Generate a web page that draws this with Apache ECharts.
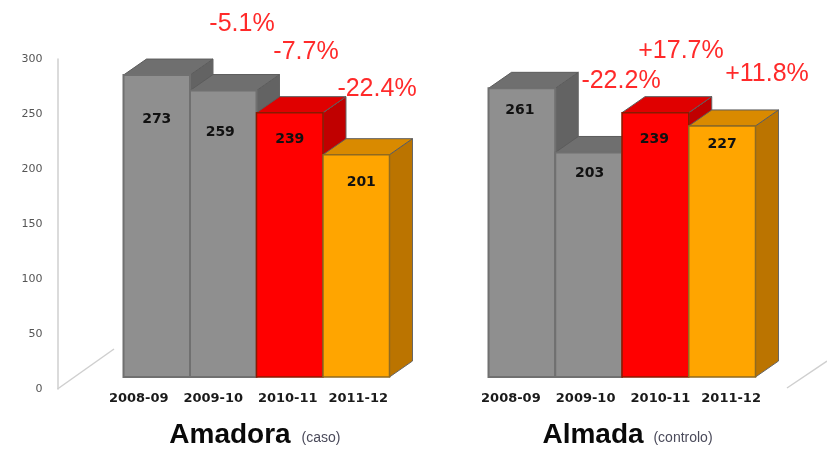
<!DOCTYPE html>
<html>
<head>
<meta charset="utf-8">
<title>Amadora / Almada</title>
<script src="https://cdn.jsdelivr.net/npm/echarts@6/dist/echarts.min.js"></script>
<style>
  html, body { margin: 0; padding: 0; background: #fff; }
  #main { width: 827px; height: 455px; filter: blur(0.4px); }
</style>
</head>
<body>
<div id="main"></div>
<script>
var years = ["2008-09", "2009-10", "2010-11", "2011-12"];
var amadora = [273, 259, 239, 201];
var almada = [261, 203, 239, 227];
var amadoraChanges = ["-5.1%", "-7.7%", "-22.4%"];
var almadaChanges = ["-22.2%", "+17.7%", "+11.8%"];
var yTicks = { min: 0, max: 300, interval: 50 };

// front, top, side
var palette = [
  ["#8f8f8f", "#6f6f6f", "#636363"],
  ["#8f8f8f", "#6f6f6f", "#636363"],
  ["#ff0000", "#e00000", "#c00000"],
  ["#ffa500", "#d98a00", "#bb7400"],
];
var depthX = 23;
var depthY = 16;
var labelFont = "DejaVu Sans";
var titleFont = "Liberation Sans";

function bars3d(values, labelOffsets) {
  return function (params, api) {
    var i = api.value(0);
    var top = api.coord([i, api.value(1)]);
    var base = api.coord([i, 0]);
    var w = api.size([1, 0])[0];
    var x0 = top[0] - w / 2;
    var x1 = top[0] + w / 2;
    var c = palette[i];
    var edge = i < 2 ? "#707070" : i == 2 ? "#8a1a00" : "#8f6a20";
    return {
      type: "group",
      children: [
        {
          type: "polygon",
          shape: { points: [[x1, top[1]], [x1 + depthX, top[1] - depthY], [x1 + depthX, base[1] - depthY], [x1, base[1]]] },
          style: { fill: c[2], stroke: "#666", lineWidth: 1 },
        },
        {
          type: "polygon",
          shape: { points: [[x0, top[1]], [x0 + depthX, top[1] - depthY], [x1 + depthX, top[1] - depthY], [x1, top[1]]] },
          style: { fill: c[1], stroke: "#5c5c5c", lineWidth: 1 },
        },
        {
          type: "rect",
          shape: { x: x0, y: top[1], width: w, height: base[1] - top[1] },
          style: { fill: c[0], stroke: edge, lineWidth: i < 2 ? 2 : 1.5 },
        },
        {
          type: "text",
          style: {
            x: top[0] + labelOffsets[i][0],
            y: top[1] + labelOffsets[i][1],
            text: String(api.value(1)),
            fill: "#111",
            font: "bold 14px '" + labelFont + "'",
            align: "center",
            verticalAlign: "middle",
          },
        },
      ],
    };
  };
}

function pairs(values) {
  return values.map(function (v, i) {
    return [i, v];
  });
}

function yearAxis(gridIndex, shifts) {
  var rich = {};
  shifts.forEach(function (s, i) {
    rich["s" + i] = {
      fontFamily: labelFont,
      fontWeight: "bold",
      fontSize: 13,
      color: "#1a1a1a",
      padding: s < 0 ? [0, -2 * s, 0, 0] : [0, 0, 0, 2 * s],
    };
  });
  return {
    type: "category",
    gridIndex: gridIndex,
    data: years,
    axisLine: { show: false },
    axisTick: { show: false },
    axisLabel: {
      margin: 15,
      interval: 0,
      hideOverlap: false,
      formatter: function (v, i) {
        return "{s" + i + "|" + v + "}";
      },
      rich: rich,
    },
  };
}

function pctText(text, x, y) {
  return {
    type: "text",
    x: x,
    y: y,
    style: {
      text: text,
      fill: "#ff2a2a",
      font: "25px '" + titleFont + "'",
      align: "center",
      verticalAlign: "middle",
    },
  };
}

function titleText(text, sub, x, subX) {
  return [
    {
      type: "text",
      x: x,
      y: 435,
      style: { text: text, fill: "#0a0a0a", font: "bold 28px '" + titleFont + "'", align: "center", verticalAlign: "middle" },
    },
    {
      type: "text",
      x: subX,
      y: 438,
      style: { text: sub, fill: "#4a4a5a", font: "14px '" + titleFont + "'", align: "center", verticalAlign: "middle" },
    },
  ];
}

function floorLine(x1, y1, x2, y2) {
  return {
    type: "line",
    shape: { x1: x1, y1: y1, x2: x2, y2: y2 },
    style: { stroke: "#cfcfcf", lineWidth: 1.5 },
  };
}

var myChart = echarts.init(document.getElementById("main"));
myChart.setOption({
  backgroundColor: "#fff",
  animation: false,
  grid: [
    { left: 123.5, top: 45.2, width: 266, height: 331.8 },
    { left: 488.5, top: 45.2, width: 267, height: 331.8 },
    { left: 57.5, top: 59, width: 1, height: 330 },
  ],
  xAxis: [
    yearAxis(0, [-18, -10, -2, 2]),
    yearAxis(1, [-11, -3, 5, 9]),
    { type: "category", gridIndex: 2, data: [""], show: false },
  ],
  yAxis: [
    { type: "value", gridIndex: 0, min: yTicks.min, max: yTicks.max, show: false },
    { type: "value", gridIndex: 1, min: yTicks.min, max: yTicks.max, show: false },
    {
      type: "value",
      gridIndex: 2,
      min: yTicks.min,
      max: yTicks.max,
      interval: yTicks.interval,
      splitLine: { show: false },
      axisTick: { show: false },
      axisLine: { show: true, lineStyle: { color: "#cfcfcf", width: 1.5 } },
      axisLabel: { margin: 15, fontFamily: labelFont, fontSize: 11, color: "#555" },
    },
  ],
  series: [
    {
      type: "custom",
      name: "Amadora",
      xAxisIndex: 0,
      yAxisIndex: 0,
      data: pairs(amadora),
      encode: { x: 0, y: 1 },
      renderItem: bars3d(amadora, [[0, 44], [-3, 42], [0, 27], [5, 28]]),
    },
    {
      type: "custom",
      name: "Almada",
      xAxisIndex: 1,
      yAxisIndex: 1,
      data: pairs(almada),
      encode: { x: 0, y: 1 },
      renderItem: bars3d(almada, [[-2, 22], [1, 21], [-1, 27], [0, 18]]),
    },
  ],
  graphic: {
    elements: [
      floorLine(57.5, 389, 114, 349),
      floorLine(787, 388, 827, 361),
      pctText(amadoraChanges[0], 242, 24),
      pctText(amadoraChanges[1], 306, 52),
      pctText(amadoraChanges[2], 377, 89),
      pctText(almadaChanges[0], 621, 81),
      pctText(almadaChanges[1], 681, 51),
      pctText(almadaChanges[2], 767, 74),
    ]
      .concat(titleText("Amadora", "(caso)", 230, 321))
      .concat(titleText("Almada", "(controlo)", 593, 683)),
  },
});
</script>
</body>
</html>
